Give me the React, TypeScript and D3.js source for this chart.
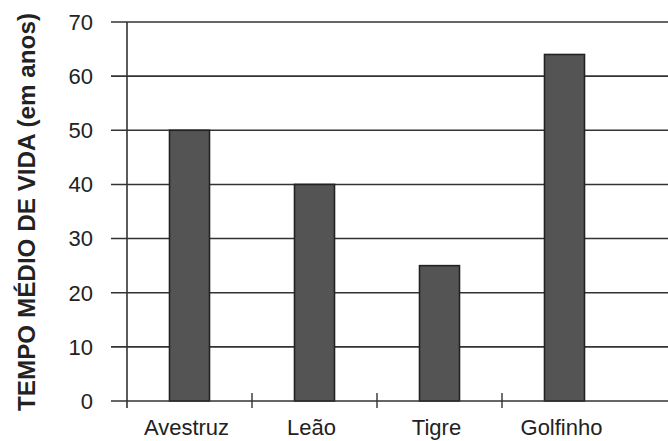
import React, { useEffect, useRef } from 'react';
import * as d3 from 'd3';

const categories = ['Avestruz', 'Leão', 'Tigre', 'Golfinho'];
const values = [50, 40, 25, 64];
const yTicks = [0, 10, 20, 30, 40, 50, 60, 70];

export default function App() {
  const svgRef = useRef<SVGSVGElement>(null);

  useEffect(() => {
    document.body.style.margin = '0';
    if (!svgRef.current) return;
    const svg = d3.select(svgRef.current);
    svg.selectAll('*').remove();

    const width = 668;
    const height = 441;
    const left = 127;
    const base = 401;
    const font = 'Liberation Sans, Arial, sans-serif';

    const x = d3.scaleBand<string>().domain(categories).range([left, left + 500]).paddingInner(0).paddingOuter(0);
    const y = d3.scaleLinear().domain([0, 70]).range([base, 22]);

    svg.append('rect').attr('width', width).attr('height', height).attr('fill', '#fff');

    // gridlines (extend past the axis like ticks)
    svg.selectAll('.grid')
      .data(yTicks.filter(t => t > 0))
      .enter()
      .append('line')
      .attr('x1', 111)
      .attr('x2', width)
      .attr('y1', d => y(d))
      .attr('y2', d => y(d))
      .attr('stroke', '#333')
      .attr('stroke-width', 1.6);

    // bars
    svg.selectAll('.bar')
      .data(categories)
      .enter()
      .append('rect')
      .attr('x', d => x(d)! + x.bandwidth() / 2 - 20)
      .attr('width', 40)
      .attr('y', (d, i) => y(values[i]))
      .attr('height', (d, i) => base - y(values[i]))
      .attr('fill', '#545454')
      .attr('stroke', '#222')
      .attr('stroke-width', 1.6);

    // baseline
    svg.append('line')
      .attr('x1', 111).attr('x2', width)
      .attr('y1', base).attr('y2', base)
      .attr('stroke', '#333').attr('stroke-width', 1.6);

    // y axis
    svg.append('line')
      .attr('x1', left).attr('x2', left)
      .attr('y1', y(70)).attr('y2', base + 7)
      .attr('stroke', '#333').attr('stroke-width', 1.6);

    // x ticks between categories
    svg.selectAll('.xtick')
      .data(categories.slice(1))
      .enter()
      .append('line')
      .attr('x1', d => x(d)!)
      .attr('x2', d => x(d)!)
      .attr('y1', base - 8)
      .attr('y2', base + 7)
      .attr('stroke', '#333')
      .attr('stroke-width', 1.4);

    // y tick labels
    svg.selectAll('.ylab')
      .data(yTicks)
      .enter()
      .append('text')
      .attr('x', 93)
      .attr('y', d => y(d))
      .attr('dy', '0.36em')
      .attr('text-anchor', 'end')
      .attr('font-family', font)
      .attr('font-size', 22)
      .attr('fill', '#222')
      .text(d => d);

    // category labels
    svg.selectAll('.xlab')
      .data(categories)
      .enter()
      .append('text')
      .attr('x', d => x(d)! + x.bandwidth() / 2 - 3)
      .attr('y', 435)
      .attr('text-anchor', 'middle')
      .attr('font-family', font)
      .attr('font-size', 22)
      .attr('fill', '#222')
      .text(d => d);

    // y axis title
    svg.append('text')
      .attr('transform', `translate(35, 212) rotate(-90)`)
      .attr('text-anchor', 'middle')
      .attr('font-family', font)
      .attr('font-size', 24)
      .attr('font-weight', 'bold')
      .attr('textLength', 398)
      .attr('lengthAdjust', 'spacingAndGlyphs')
      .attr('fill', '#222')
      .text('TEMPO MÉDIO DE VIDA (em anos)');
  }, []);

  return <svg ref={svgRef} width={668} height={441} style={{ display: 'block' }} />;
}
